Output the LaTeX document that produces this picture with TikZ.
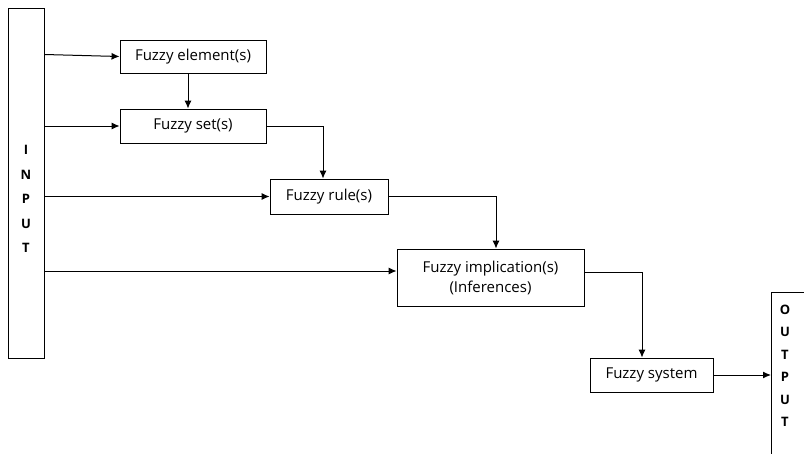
\documentclass[tikz,border=0pt]{standalone}
\usepackage{fontspec}
\setmainfont{Open Sans}
\usetikzlibrary{positioning,arrows.meta}

\tikzset{
  block/.style={draw, line width=0.9pt, inner sep=0pt, align=center, font=\fontsize{15}{20}\selectfont},
  letters/.style={align=center, inner sep=0pt, font=\fontsize{13}{24.5}\selectfont\bfseries},
  flow/.style={line width=1pt, -{Latex[length=8pt,width=7pt]}}
}

\begin{document}
\begin{tikzpicture}[x=1pt,y=-1pt]
\useasboundingbox (0,0) rectangle (804,453);

% Nodes
  \node[block, minimum width=36pt,  minimum height=350pt] (input) at (26,183) {};
  \node[letters]                                   (inlabel) at (26,199) {I\\N\\P\\U\\T};
  \node[block, minimum width=146pt, minimum height=33pt]  (elem)  at (193,56.5) {Fuzzy element(s)};
  \node[block, minimum width=146pt, minimum height=34pt]  (set)   at (193,126) {Fuzzy set(s)};
  \node[block, minimum width=118pt, minimum height=35pt]  (rule)  at (329,196.5) {Fuzzy rule(s)};
  \node[block, minimum width=187pt, minimum height=57pt]  (impl)  at (490.5,277.5) {Fuzzy implication(s)\\(Inferences)};
  \node[block, minimum width=123pt, minimum height=34pt]  (sys)   at (651.5,375) {Fuzzy system};
  \node[block, anchor=north west, minimum width=70pt, minimum height=180pt] (output) at (771,292) {};
  \node[letters, font=\fontsize{13}{22.5}\selectfont\bfseries] (outlabel) at (785,366) {O\\U\\T\\P\\U\\T};

% Edges
  \draw[flow] ([yshift=2pt]input.east |- elem.west) -- (elem.west);
  \draw[flow] ([xshift=-5pt]elem.south) -- ([xshift=-5pt]set.north);
  \draw[flow] (input.east |- set.west) -- (set.west);
  \draw[flow] (set.east) -| ([xshift=-6pt]rule.north);
  \draw[flow] (input.east |- rule.west) -- (rule.west);
  \draw[flow] (rule.east) -| ([xshift=5.5pt]impl.north);
  \draw[flow] ([yshift=6.5pt]input.east |- impl.west) -- ([yshift=6.5pt]impl.west);
  \draw[flow] ([yshift=5.5pt]impl.east) -| ([xshift=-9.5pt]sys.north);
  \draw[flow] (sys.east) -- (sys.east -| output.west);

\end{tikzpicture}
\end{document}
